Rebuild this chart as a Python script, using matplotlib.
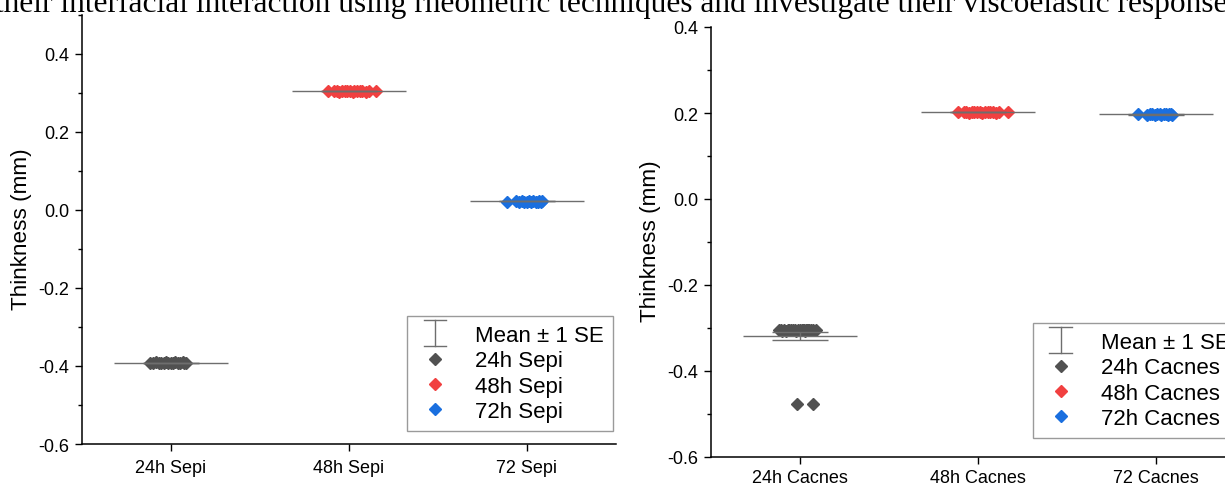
import numpy as np
import matplotlib
matplotlib.use("Agg")
import matplotlib.pyplot as plt
from matplotlib.lines import Line2D
from matplotlib.legend_handler import HandlerBase
from matplotlib.ticker import MultipleLocator, FormatStrFormatter

plt.rcParams['font.family'] = ['Liberation Sans', 'DejaVu Sans']

# ---------------- data ----------------
left_categories = ["24h Sepi", "48h Sepi", "72 Sepi"]
left_series = ["24h Sepi", "48h Sepi", "72h Sepi"]
right_categories = ["24h Cacnes", "48h Cacnes", "72 Cacnes"]
right_series = ["24h Cacnes", "48h Cacnes", "72h Cacnes"]

sepi_24h = [-0.393, -0.392, -0.391, -0.392, -0.393, -0.392, -0.391, -0.392,
            -0.392, -0.393, -0.391, -0.392, -0.392, -0.391, -0.393, -0.392]
sepi_48h = [0.303, 0.304, 0.303, 0.302, 0.304, 0.303, 0.303, 0.304,
            0.302, 0.303, 0.304, 0.303, 0.303, 0.302, 0.303, 0.304]
sepi_72h = [0.021, 0.022, 0.021, 0.022, 0.021, 0.021, 0.022, 0.021,
            0.022, 0.021, 0.021, 0.022, 0.021, 0.022]

cacnes_24h = [-0.305, -0.304, -0.305, -0.306, -0.305, -0.304, -0.305, -0.305,
              -0.306, -0.304, -0.305, -0.305, -0.304, -0.306, -0.305, -0.305,
              -0.304, -0.305, -0.306, -0.305, -0.305, -0.304, -0.305, -0.305,
              -0.477, -0.477]
cacnes_48h = [0.202, 0.203, 0.202, 0.201, 0.202, 0.203, 0.202, 0.202,
              0.201, 0.202, 0.203, 0.202, 0.202, 0.201, 0.202, 0.203]
cacnes_72h = [0.197, 0.196, 0.197, 0.197, 0.196, 0.197, 0.197, 0.196,
              0.197, 0.197, 0.196, 0.197, 0.197, 0.196]

# horizontal jitter of the individual points (category units)
jit_sepi_24h = [-0.12, -0.10, -0.085, -0.07, -0.055, -0.04, -0.03, -0.015,
                0.0, 0.01, 0.025, 0.04, 0.05, 0.065, 0.075, 0.085]
jit_sepi_48h = [-0.12, -0.085, -0.07, -0.055, -0.04, -0.025, -0.01, 0.005,
                0.02, 0.03, 0.045, 0.06, 0.075, 0.095, 0.11, 0.15]
jit_sepi_72h = [-0.11, -0.06, -0.045, -0.03, -0.015, 0.0, 0.01, 0.025,
                0.035, 0.05, 0.06, 0.07, 0.08, 0.085]
jit_cacnes_24h = [-0.12, -0.105, -0.09, -0.08, -0.065, -0.05, -0.04, -0.03,
                  -0.02, -0.01, 0.0, 0.01, 0.02, 0.03, 0.04, 0.045, 0.05,
                  -0.06, -0.1, 0.015, 0.035, 0.06, 0.075, 0.09,
                  -0.017, 0.073]
jit_cacnes_48h = [-0.11, -0.08, -0.065, -0.05, -0.035, -0.02, -0.005, 0.01,
                  0.025, 0.04, 0.055, 0.07, 0.085, 0.10, 0.12, 0.17]
jit_cacnes_72h = [-0.10, -0.05, -0.035, -0.02, -0.005, 0.005, 0.02, 0.03,
                  0.045, 0.055, 0.065, 0.075, 0.085, 0.09]

left_values = [sepi_24h, sepi_48h, sepi_72h]
left_jitter = [jit_sepi_24h, jit_sepi_48h, jit_sepi_72h]
right_values = [cacnes_24h, cacnes_48h, cacnes_72h]
right_jitter = [jit_cacnes_24h, jit_cacnes_48h, jit_cacnes_72h]

colors = ["#515151", "#F14040", "#1A6FDF"]
line_gray = "#6e6e6e"


class SEHandle:
    pass


class HandlerSE(HandlerBase):
    def create_artists(self, legend, orig_handle, xdescent, ydescent,
                       width, height, fontsize, trans):
        cx = width / 2 - xdescent
        y0 = -ydescent - 0.35 * height
        y1 = -ydescent + 1.35 * height
        cw = 0.3 * width
        arts = [
            Line2D([cx, cx], [y0, y1], color=line_gray, lw=1.0),
            Line2D([cx - cw, cx + cw], [y0, y0], color=line_gray, lw=1.0),
            Line2D([cx - cw, cx + cw], [y1, y1], color=line_gray, lw=1.0),
        ]
        for a in arts:
            a.set_transform(trans)
        return arts


fig = plt.figure(figsize=(12.25, 4.89), dpi=100)

fig.text(-0.004, 0.976, "their interfacial interaction using rheometric techniques and investigate their viscoelastic response",
         family=["Liberation Serif", "DejaVu Serif"], fontsize=22.6,
         va="baseline", ha="left")

ax1 = fig.add_axes([82 / 1225, 1 - 445 / 489, 534 / 1225, (445 - 15.5) / 489])
ax2 = fig.add_axes([711 / 1225, 1 - 458 / 489, 534 / 1225, (458 - 28) / 489])


def panel(ax, cats, ser, vals, jits, ylim, anchor, xpad):
    pos = np.arange(1, len(cats) + 1)
    handles = []
    for i, (v_, j_) in enumerate(zip(vals, jits)):
        v = np.asarray(v_, dtype=float)
        x = pos[i] + np.asarray(j_, dtype=float)
        h, = ax.plot(x, v, linestyle="none", marker="D", ms=6.3,
                     color=colors[i], mec=colors[i], zorder=3)
        handles.append(h)
        m = v.mean()
        se = v.std(ddof=1) / np.sqrt(len(v))
        ax.hlines(m, pos[i] - 0.32, pos[i] + 0.32, color=line_gray,
                  lw=1.0, zorder=4)
        ax.vlines(pos[i], m - se, m + se, color=line_gray, lw=1.0, zorder=4)
        ax.hlines([m - se, m + se], pos[i] - 0.16, pos[i] + 0.16,
                  color=line_gray, lw=1.0, zorder=4)
    ax.set_xlim(0.5, 3.5)
    ax.set_ylim(*ylim)
    ax.set_xticks(pos)
    ax.set_xticklabels(cats)
    ax.yaxis.set_major_locator(MultipleLocator(0.2))
    ax.yaxis.set_minor_locator(MultipleLocator(0.1))
    ax.yaxis.set_major_formatter(FormatStrFormatter("%.1f"))
    ax.tick_params(axis="both", which="major", direction="out", length=5,
                   width=1, labelsize=13)
    ax.tick_params(axis="x", which="major", pad=xpad)
    ax.tick_params(axis="y", which="major", pad=4)
    ax.tick_params(axis="y", which="minor", direction="out", length=3,
                   width=1)
    ax.tick_params(axis="x", which="minor", bottom=False)
    for s in ("top", "right"):
        ax.spines[s].set_visible(False)
    for s in ("left", "bottom"):
        ax.spines[s].set_linewidth(1.1)
    ax.set_ylabel("Thinkness (mm)", fontsize=16.2)

    leg = ax.legend([SEHandle()] + handles, ["Mean ± 1 SE"] + ser,
                    handler_map={SEHandle: HandlerSE()},
                    loc="lower left", bbox_to_anchor=anchor,
                    fontsize=16, frameon=True, fancybox=False,
                    edgecolor="#9a9a9a", framealpha=1, borderpad=0.4,
                    labelspacing=0.2, handlelength=1.7, handletextpad=0.95,
                    borderaxespad=0)
    leg.get_frame().set_linewidth(1.0)


panel(ax1, left_categories, left_series, left_values, left_jitter,
      (-0.6, 0.5), (0.609, 0.03), 6)
panel(ax2, right_categories, right_series, right_values, right_jitter,
      (-0.6, 0.4), (0.603, 0.044), 4)

ax1.yaxis.set_label_coords(-0.093, 0.503)
ax2.yaxis.set_label_coords(-0.093, 0.505)

fig.savefig("out.png", dpi=100)
